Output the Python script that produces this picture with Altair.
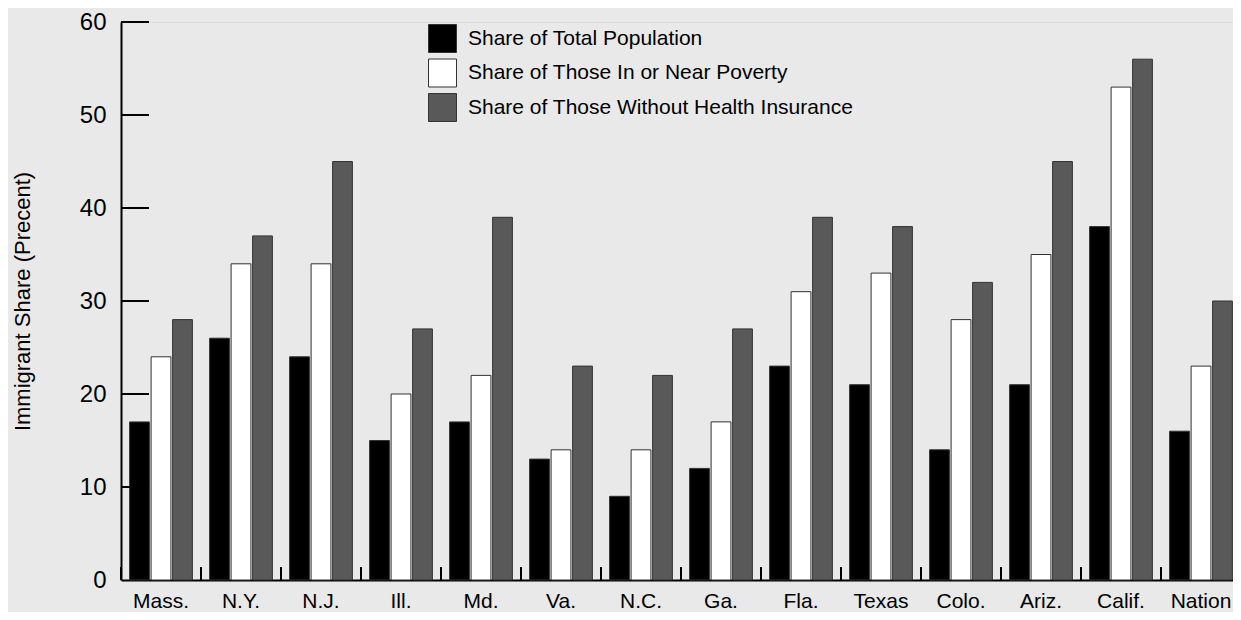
import altair as alt
import pandas as pd

states = ["Mass.", "N.Y.", "N.J.", "Ill.", "Md.", "Va.", "N.C.", "Ga.", "Fla.", "Texas", "Colo.", "Ariz.", "Calif.", "Nation"]
series = ["Share of Total Population", "Share of Those In or Near Poverty", "Share of Those Without Health Insurance"]
total_pop = [17, 26, 24, 15, 17, 13, 9, 12, 23, 21, 14, 21, 38, 16]
poverty = [24, 34, 34, 20, 22, 14, 14, 17, 31, 33, 28, 35, 53, 23]
uninsured = [28, 37, 45, 27, 39, 23, 22, 27, 39, 38, 32, 45, 56, 30]
y_ticks = [10, 20, 30, 40, 50, 60]

rows = []
for i, s in enumerate(states):
    for name, vals in zip(series, [total_pop, poverty, uninsured]):
        rows.append({"state": s, "series": name, "value": vals[i]})
df = pd.DataFrame(rows)
df_states = pd.DataFrame({"state": states})
df_ticks = pd.DataFrame({"value": y_ticks})

FONT = "Liberation Sans"
W, H = 1112, 558
Y_TITLE = "Immigrant Share (Precent)"

x_scale = alt.Scale(paddingInner=0, paddingOuter=0, range=[0, 1120])
y_scale = alt.Scale(domain=[0, 60], nice=False)
y_axis = alt.Axis(values=[0] + y_ticks)

bars = alt.Chart(df).mark_bar(stroke="#333333", strokeWidth=1).encode(
    x=alt.X("state:N", sort=states, scale=x_scale, title=None),
    xOffset=alt.XOffset("series:N", sort=series,
                        scale=alt.Scale(paddingInner=0.08, paddingOuter=0.4)),
    y=alt.Y("value:Q", scale=y_scale, title=Y_TITLE, axis=y_axis),
    fill=alt.Fill("series:N", sort=series,
                  scale=alt.Scale(domain=series, range=["#000000", "#ffffff", "#595959"]),
                  legend=alt.Legend(title=None, orient="none", legendX=307, legendY=2,
                                    symbolType="square", symbolSize=784,
                                    symbolStrokeColor="#333333", symbolStrokeWidth=1,
                                    symbolOpacity=1, labelFontSize=21, labelFont=FONT,
                                    labelColor="black", labelOffset=11, rowPadding=1.5,
                                    labelLimit=0, padding=0)),
)

xticks = alt.Chart(df_states).mark_rule(color="black", strokeWidth=2).encode(
    x=alt.X("state:N", sort=states, bandPosition=0, title=None),
    y=alt.datum(0),
    y2=alt.datum(1.4),
)

yticks = alt.Chart(df_ticks).mark_rule(color="black", strokeWidth=2).encode(
    y=alt.Y("value:Q", title=Y_TITLE, axis=y_axis),
    x=alt.value(0),
    x2=alt.value(28),
)

chart = alt.layer(bars, xticks, yticks).properties(
    width=W, height=H,
    background="#e9e9e9",
    padding={"left": 113, "top": 14, "right": 0, "bottom": 32},
    autosize=alt.AutoSizeParams(type="none"),
).configure_view(stroke="transparent", strokeWidth=0).configure(font=FONT).configure_axis(
    grid=False, ticks=False, domain=True, domainColor="black", domainWidth=2,
    labelColor="black", labelFont=FONT, titleFont=FONT, titleColor="black",
    titleFontWeight="normal",
).configure_axisX(
    labelFontSize=21, labelBaseline="alphabetic", labelPadding=27, labelAngle=0,
).configure_axisY(
    labelFontSize=24, labelPadding=15, titleFontSize=22, titlePadding=45,
)

chart.save("out.html", embed_options={"renderer": "svg", "actions": False})
